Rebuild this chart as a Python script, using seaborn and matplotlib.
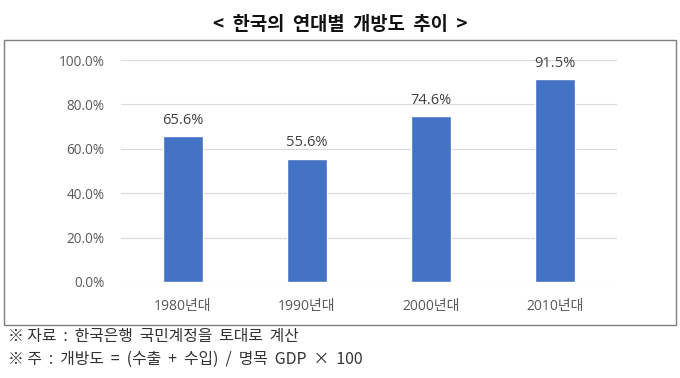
"""Korea openness by decade bar chart."""

import matplotlib.pyplot as plt
import matplotlib.patches as mpatches
import pandas as pd
import seaborn as sns

decades = ["1980년대", "1990년대", "2000년대", "2010년대"]
openness = [65.6, 55.6, 74.6, 91.5]
yticks = [0, 20, 40, 60, 80, 100]

title = "<  한국의  연대별  개방도  추이  >"
notes = [
    "※ 자료  :  한국은행  국민계정을  토대로  계산",
    "※ 주  :  개방도  =  (수출  +  수입)  /  명목  GDP  ×  100",
]

sns.set_theme(style="white")
plt.rcParams["font.family"] = ["Open Sans", "Noto Sans CJK KR", "DejaVu Sans"]
CJK = ["Noto Sans CJK KR", "DejaVu Sans"]

df = pd.DataFrame({"decade": decades, "value": openness})

fig = plt.figure(figsize=(6.8, 3.78), dpi=100)
ax = fig.add_axes([0.178, 0.254, 0.729, 0.587])

sns.barplot(data=df, x="decade", y="value", color="#4472C4", width=0.32,
            saturation=1, ax=ax)

ax.set_ylim(0, 100)
ax.set_yticks(yticks)
ax.set_yticklabels([f"{v:.1f}%" for v in yticks])
ax.yaxis.grid(True, color="#D9D9D9", linewidth=0.8)
ax.set_axisbelow(True)
ax.set(xlabel="", ylabel="")
for s in ax.spines.values():
    s.set_visible(False)
ax.tick_params(axis="y", length=0, labelsize=9.8, colors="#595959", pad=12)
ax.tick_params(axis="x", length=0, labelsize=10, colors="#595959", pad=12)

for p, v in zip(ax.patches, openness):
    ax.annotate(f"{v:.1f}%", (p.get_x() + p.get_width() / 2, v),
                xytext=(0, 6), textcoords="offset points",
                ha="center", va="bottom", fontsize=10.5, color="#404040",
                annotation_clip=False)

# outer box
fig.patches.append(mpatches.Rectangle((4 / 680, 1 - 325 / 378), 672 / 680, 285 / 378,
                                      transform=fig.transFigure, fill=False,
                                      edgecolor="#7F7F7F", linewidth=1))

fig.text(0.5, 1 - 24 / 378, title, ha="center", va="center", family=CJK,
         fontsize=13.5, fontweight="bold", color="#111111")
fig.text(8 / 680, 1 - 337 / 378, notes[0], ha="left", va="center", family=CJK,
         fontsize=11.4, color="#333333")
fig.text(8 / 680, 1 - 359 / 378, notes[1], ha="left", va="center", family=CJK,
         fontsize=11.4, color="#333333")

plt.savefig("out.png", dpi=100)
